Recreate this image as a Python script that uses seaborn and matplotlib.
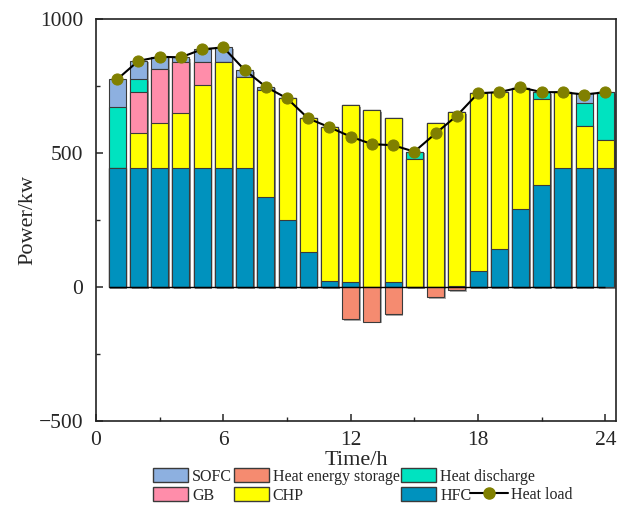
import numpy as np
import pandas as pd
import matplotlib
matplotlib.use("Agg")
import matplotlib.pyplot as plt
import matplotlib.patheffects as pe
from matplotlib.patches import Patch
from matplotlib.lines import Line2D
import seaborn as sns

hours = list(range(1, 25))
HFC = [443, 443, 443, 443, 443, 443, 443, 335, 250, 129, 21, 19, 0, 20, 0, 0, 4, 61, 141, 291, 379, 443, 443, 443]
CHP = [0, 133, 170, 205, 311, 395, 342, 400, 454, 500, 575, 660, 660, 612, 476, 611, 648, 662, 585, 450, 321, 284, 159, 105]
GB = [0, 153, 202, 193, 87, 0, 0, 0, 0, 0, 0, 0, 0, 0, 0, 0, 0, 0, 0, 0, 0, 0, 0, 0]
discharge = [230, 46, 0, 0, 0, 0, 0, 0, 0, 0, 0, 0, 0, 0, 29, 0, 0, 0, 0, 0, 27, 0, 83, 179]
SOFC = [102, 69, 44, 16, 46, 56, 25, 12, 0, 0, 0, 0, 0, 0, 0, 0, 0, 0, 0, 0, 0, 0, 38, 0]
storage = [0, 0, 0, 0, 0, 0, 0, 0, 0, 0, 0, -121, -129, -102, 0, -38, -11, 0, 0, 0, 0, 0, 0, 0]
heat_load = [775, 844, 859, 857, 887, 894, 810, 747, 704, 629, 596, 561, 533, 529, 505, 573, 639, 723, 727, 745, 727, 727, 718, 727]
y_ticks = [-500, 0, 500, 1000]
y_ticklabels = ["\u2212500", "0", "500", "1000"]
x_ticks = [0, 6, 12, 18, 24]

colors = {
    "SOFC": "#8DB0E0",
    "Heat energy storage": "#F58B70",
    "Heat discharge": "#00E3C0",
    "GB": "#FF8DAA",
    "CHP": "#FFFF00",
    "HFC": "#0092BE",
}

sns.set_style("ticks")
plt.rcParams["font.family"] = ["Liberation Serif", "DejaVu Serif"]

fig = plt.figure(figsize=(6.18, 5.09), dpi=100)
ax = fig.add_axes([96 / 618, 1 - 421 / 509, (616 - 96) / 618, (421 - 19) / 509])

df = pd.DataFrame({"hour": hours, "HFC": HFC, "CHP": CHP, "GB": GB,
                   "Heat discharge": discharge, "SOFC": SOFC,
                   "Heat energy storage": storage})
order = ["HFC", "CHP", "GB", "Heat discharge", "SOFC"]
cum = df[order].cumsum(axis=1)

shadow = [pe.SimplePatchShadow(offset=(1.2, -1.2), shadow_rgbFace="#888888", alpha=0.7), pe.Normal()]

# draw from top layer downwards so lower layers overlay upper cumulative bars
for name in reversed(order):
    sns.barplot(x=df["hour"], y=cum[name], native_scale=True, color=colors[name],
                saturation=1, errorbar=None, width=0.8, edgecolor="#3a3a3a",
                linewidth=0.8, ax=ax)
sns.barplot(x=df["hour"], y=df["Heat energy storage"], native_scale=True,
            color=colors["Heat energy storage"], saturation=1, errorbar=None, width=0.8,
            edgecolor="#3a3a3a", linewidth=0.8, ax=ax)
for p in ax.patches:
    p.set_path_effects(shadow)

ax.hlines(0, hours[0] - 0.4, hours[-1], color="black", lw=1.0, zorder=3)

sns.lineplot(x=hours, y=heat_load, color="black", lw=1.5, marker="o",
             markersize=8, markerfacecolor="#808000", markeredgecolor="#808000",
             ax=ax, zorder=5)

ax.set_xlim(0, 24.5)
ax.set_ylim(-500, 1000)
ax.set_xticks(x_ticks)
ax.set_xticks([3, 9, 15, 21], minor=True)
ax.set_yticks(y_ticks)
ax.set_yticks([-250, 250, 750], minor=True)
ax.tick_params(axis="both", which="major", direction="in", length=5, width=1.1, labelsize=15.5)
ax.tick_params(axis="y", which="major", pad=9)
ax.tick_params(axis="x", which="major", pad=7)
ax.tick_params(axis="both", which="minor", direction="in", length=3, width=1.0)
ax.tick_params(top=False, right=False)
for s in ax.spines.values():
    s.set_linewidth(1.2)
    s.set_color("#222222")
    s.set_visible(True)
ax.set_xlabel("Time/h", fontsize=16, labelpad=1)
ax.set_ylabel("Power/kw", fontsize=16, labelpad=1)
ax.set_yticklabels(y_ticklabels)

handles = [
    Patch(facecolor=colors["SOFC"], edgecolor="#3a3a3a", label="SOFC"),
    Patch(facecolor=colors["GB"], edgecolor="#3a3a3a", label="GB"),
    Patch(facecolor=colors["Heat energy storage"], edgecolor="#3a3a3a", label="Heat energy storage"),
    Patch(facecolor=colors["CHP"], edgecolor="#3a3a3a", label="CHP"),
    Patch(facecolor=colors["Heat discharge"], edgecolor="#3a3a3a", label="Heat discharge"),
    Patch(facecolor=colors["HFC"], edgecolor="#3a3a3a", label="HFC"),
]
fig.legend(handles=handles, ncol=3,
           loc="upper left", bbox_to_anchor=(153 / 618, 1 - 468 / 509), frameon=False,
           fontsize=11.5, handlelength=2.2, handleheight=1.0, handletextpad=0.25,
           columnspacing=0.1, labelspacing=0.15, borderpad=0, borderaxespad=0)
line_handle = Line2D([0], [0], color="black", lw=1.5, marker="o", markersize=8,
                     markerfacecolor="#808000", markeredgecolor="#808000", label="Heat load")
fig.legend(handles=[line_handle], loc="center left",
           bbox_to_anchor=(470 / 618, 1 - 495 / 509), frameon=False,
           fontsize=11.5, handlelength=2.35, handletextpad=0.2, borderpad=0, borderaxespad=0)

fig.savefig("out.png", dpi=100)
